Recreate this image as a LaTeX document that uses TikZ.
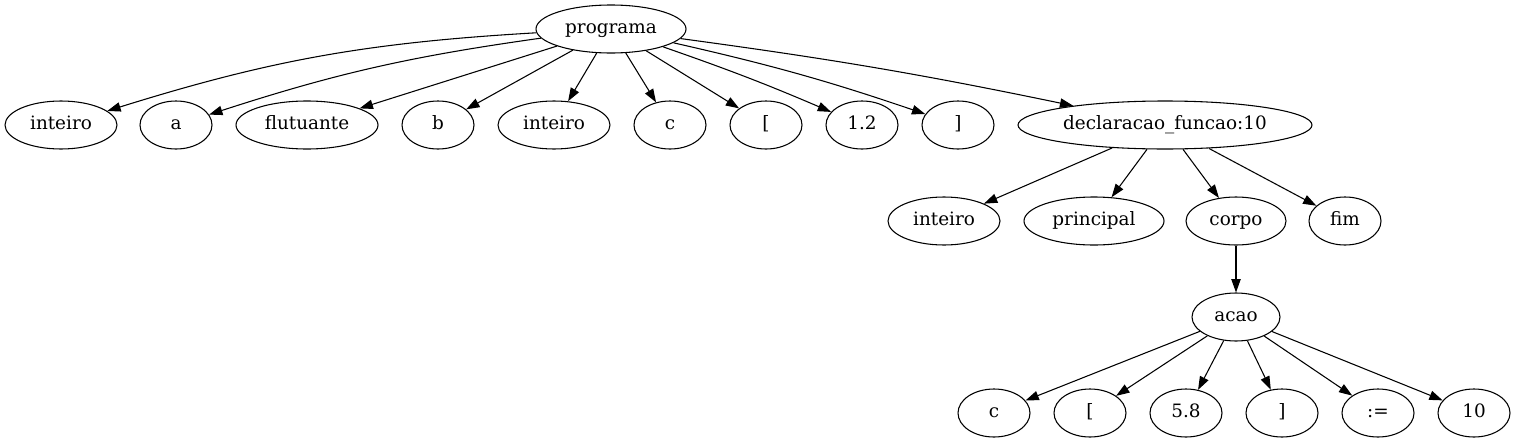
\documentclass[tikz,border=0pt]{standalone}
\usepackage{fontspec}
\setmainfont{DejaVu Serif}
\usetikzlibrary{arrows.meta,positioning,shapes.geometric}
\tikzset{
    %Define standard arrow tip
    >={Triangle[length=10pt,width=7pt]},
    %Define style for tree nodes
    folha/.style={
           ellipse,
           draw=black, line width=0.8pt,
           minimum width=54pt,
           minimum height=36pt,
           inner sep=0pt,
           text height=9.5pt,
           text depth=3pt,
           font=\fontsize{13.8}{16}\selectfont,
           text centered},
    % Define arrow style
    seta/.style={
           ->,
           line width=0.8pt}
}
\begin{document}
\begin{tikzpicture}[x=0.75pt,y=-0.75pt,main node/.style={folha}]
\useasboundingbox (0,0) rectangle (1517,443);

 %nodes
\node[main node, minimum width=112.5pt](1) at (611,29){programa};
\node[main node, minimum width=84pt](2) at (61,125){inteiro};
\node[main node](3) at (176,125){a};
\node[main node, minimum width=106.5pt](4) at (307,125){flutuante};
\node[main node](5) at (438,125){b};
\node[main node, minimum width=84pt](6) at (554,125){inteiro};
\node[main node](7) at (670,125){c};
\node[main node](8) at (766,125){[};
\node[main node](9) at (862,125){1.2};
\node[main node](10) at (958,125){]};
\node[main node, minimum width=220.5pt](11) at (1165,125){declaracao\_funcao:10};

\node[main node, minimum width=84pt](12) at (944,221){inteiro};
\node[main node, minimum width=105pt](13) at (1094,221){principal};
\node[main node, minimum width=75pt](14) at (1236,221){corpo};
\node[main node](15) at (1345,221){fim};

\node[main node, minimum width=66pt](16) at (1236,317){acao};

\node[main node](17) at (994,413){c};
\node[main node](18) at (1090,413){[};
\node[main node](19) at (1186,413){5.8};
\node[main node](20) at (1282,413){]};
\node[main node](21) at (1378,413){:=};
\node[main node](22) at (1474,413){10};

 \path[seta]
    (1) edge[bend right=7] (2)
        edge[bend right=5] (3)
        edge (4) edge (5) edge (6) edge (7) edge (8)
        edge[bend left=2] (9)
        edge[bend left=3] (10)
        edge[bend left=2] (11)
    (11) edge (12) edge (13) edge (14) edge (15)
    (14) edge (16)
    (16) edge (17) edge (18) edge (19) edge (20) edge (21) edge (22);

\end{tikzpicture}
\end{document}
